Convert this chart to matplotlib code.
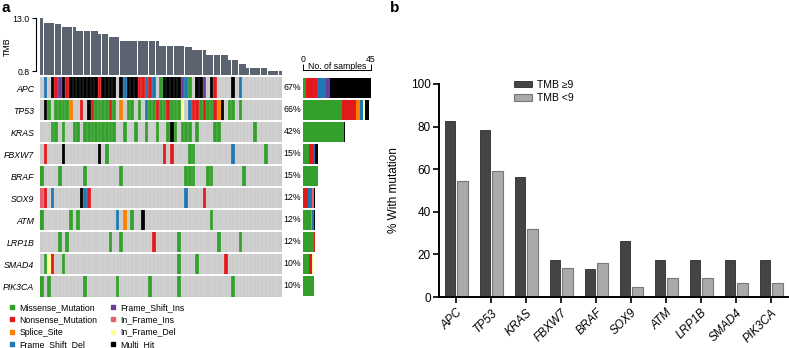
import matplotlib
matplotlib.use('Agg')
import matplotlib.pyplot as plt
import numpy as np
from matplotlib.lines import Line2D
from matplotlib.colors import ListedColormap

plt.rcParams['font.family'] = ['Liberation Sans', 'DejaVu Sans']

# ---------------- data ----------------
genes = ['APC', 'TP53', 'KRAS', 'FBXW7', 'BRAF', 'SOX9', 'ATM', 'LRP1B', 'SMAD4', 'PIK3CA']

tmb = [13.0, 11.9, 11.9, 11.9, 11.6, 11.6, 10.9, 10.9, 10.9, 10.9,
       10.0, 10.0, 10.0, 10.0, 10.0, 10.0, 9.3, 9.3, 9.3, 8.7,
       8.7, 8.7, 7.7, 7.7, 7.7, 7.7, 7.7, 7.7, 7.7, 7.7,
       7.7, 7.7, 7.7, 6.6, 6.6, 6.6, 6.6, 6.6, 6.6, 6.6,
       6.3, 6.3, 5.6, 5.6, 5.6, 5.6, 4.65, 4.65, 4.65, 4.65,
       4.65, 4.65, 3.5, 3.5, 3.5, 2.6, 2.6, 1.7, 1.7, 1.7,
       1.7, 1.7, 1.7, 0.8, 0.8, 0.8, 0.8]

# codes: M missense, N nonsense, S splice, D fs del, I fs ins, P in-frame ins, F in-frame del, X multi hit
mut_matrix = [
    ".D.XNIXNXX XXXXXXNXXX X.XDXXXNND ND.MXXXXXI DM.XXI.XN. ...X.D.... .......",  # APC
    ".XM.MMMMS. .N.XNMMMMN M.S.MM.M.D MMNMMNMMMF .DNNMNMMNS X.MM.M.... .......",  # TP53
    "...MM.M..M M.MMMMMMMM M..M..M..M ..M..MXM.M MM.M....MM .........M .......",  # KRAS
    ".N....X... ......X.M. .......... ....N.N... .MM....... ...D...... ..M....",  # FBXW7
    "M....M.... ..M....... ..M....... .......... MMM...MM.. ......M... .......",  # BRAF
    "PN.D...... .XDN...... .......... .......... D....N.... .......... .......",  # SOX9
    "M.......M. M......... .D.S.M..X. .......... .......M.. .......... .......",  # ATM
    ".....M.M.. .........M ..M....... .N......M. .........M .....M.... .......",  # LRP1B
    ".MFN..M... .......... .......... ........M. ...M...... .N........ .......",  # SMAD4
    "M.M....... ..M....... .M........ M.......M. .......... ...M...... .......",  # PIK3CA
]

mut_types = ['Missense_Mutation', 'Nonsense_Mutation', 'Splice_Site', 'Frame_Shift_Del',
             'Frame_Shift_Ins', 'In_Frame_Ins', 'In_Frame_Del', 'Multi_Hit']
mut_codes = ['M', 'N', 'S', 'D', 'I', 'P', 'F', 'X']
mut_colors = ['#33a02c', '#e31a1c', '#ff7f00', '#1f78b4', '#6a3d9a', '#e8606e', '#ffff99', '#000000']
bg_color = '#cccccc'

pct_high = [82.6, 78.3, 56.5, 17.4, 13.0, 26.1, 17.4, 17.4, 17.4, 17.4]
pct_low = [54.5, 59.1, 31.8, 13.6, 15.9, 4.5, 9.1, 9.1, 6.8, 6.8]

# ---------------- figure ----------------
W, H = 789, 348
fig = plt.figure(figsize=(W / 100, H / 100), dpi=100)


def box(x0, y0, x1, y1):
    return [x0 / W, 1 - y1 / H, (x1 - x0) / W, (y1 - y0) / H]


rows = [r.replace(' ', '') for r in mut_matrix]
n_samp = len(tmb)
n_gene = len(genes)
code_index = {c: i + 1 for i, c in enumerate(mut_codes)}
mat = np.array([[code_index.get(ch, 0) for ch in r] for r in rows])

# TMB bars
ax_t = fig.add_axes(box(40, 18, 282, 75))
ax_t.bar(np.arange(n_samp) + 0.5, tmb, width=0.9, color='#5b6270', linewidth=0)
ax_t.set_xlim(0, n_samp)
ax_t.set_ylim(0, 13.0)
for s in ['top', 'right', 'bottom']:
    ax_t.spines[s].set_visible(False)
ax_t.spines['left'].set_bounds(0.8, 13.0)
ax_t.spines['left'].set_position(('outward', 3))
ax_t.spines['left'].set_linewidth(0.8)
ax_t.set_yticks([0.8, 13.0])
ax_t.set_yticklabels(['0.8', '13.0'])
ax_t.tick_params(axis='y', labelsize=6.3, length=3, width=0.8, pad=1.5)
ax_t.set_xticks([])
ax_t.set_ylabel('TMB', fontsize=6.3)
ax_t.yaxis.set_label_coords(-0.118, 0.5)

# oncoplot matrix
cmap = ListedColormap([bg_color] + mut_colors)
ax_m = fig.add_axes(box(40, 77, 282, 297))
ax_m.pcolormesh(np.arange(n_samp + 1), np.arange(n_gene + 1), mat, cmap=cmap,
                vmin=-0.5, vmax=len(mut_codes) + 0.5, edgecolors='none')
ax_m.vlines(np.arange(1, n_samp), 0, n_gene, color='white', alpha=0.45, linewidth=0.3)
ax_m.hlines(np.arange(1, n_gene), 0, n_samp, color='white', linewidth=1.4)
ax_m.set_xlim(0, n_samp)
ax_m.set_ylim(n_gene, 0)
for s in ax_m.spines.values():
    s.set_visible(False)
ax_m.set_xticks([])
ax_m.set_yticks(np.arange(n_gene) + 0.5)
ax_m.set_yticklabels(genes, fontstyle='italic', fontsize=6.3)
ax_m.tick_params(axis='y', length=0, pad=4)

counts = (mat > 0).sum(axis=1)
for i, c in enumerate(counts):
    ax_m.text(n_samp + 0.45, i + 0.5, f'{int(round(100 * c / n_samp))}%', ha='left',
              va='center', fontsize=6.3)

# side bar
ax_s = fig.add_axes(box(303, 77, 371, 297))
left = np.zeros(n_gene)
for k, code in enumerate(mut_codes):
    vals = (mat == k + 1).sum(axis=1)
    ax_s.barh(np.arange(n_gene) + 0.5, vals, left=left, height=0.9, color=mut_colors[k], linewidth=0)
    left += vals
ax_s.set_xlim(0, 45)
ax_s.set_ylim(n_gene, 0)
for s in ['bottom', 'left', 'right']:
    ax_s.spines[s].set_visible(False)
ax_s.spines['top'].set_position(('outward', 5))
ax_s.spines['top'].set_linewidth(0.7)
ax_s.xaxis.tick_top()
ax_s.set_xticks([0, 45])
ax_s.tick_params(axis='x', labelsize=6.3, length=4, width=0.7, pad=0.5)
ax_s.set_yticks([])
ax_s.annotate('No. of samples', xy=(0.5, 1), xycoords='axes fraction', xytext=(0, 5.6),
              textcoords='offset points', ha='center', va='baseline', fontsize=6.3)

# legend a
handles = [Line2D([], [], marker='s', ms=3.3, color=c, ls='') for c in mut_colors]
fig.legend(handles, mut_types, loc='upper left', bbox_to_anchor=(9 / W, 1 - 303 / H), ncol=2,
           frameon=False, fontsize=6.3, handlelength=0.7, handletextpad=0.5, columnspacing=1.4,
           labelspacing=0.38, borderpad=0, borderaxespad=0)

# ---------------- panel b ----------------
ax_b = fig.add_axes(box(439, 84, 788, 297))
x = np.arange(len(genes))
ax_b.bar(x - 0.17, pct_high, width=0.3, color='#444444', edgecolor='#2a2a2a', linewidth=0.6,
         label='TMB \u22659')
ax_b.bar(x + 0.185, pct_low, width=0.3, color='#aaaaaa', edgecolor='#777777', linewidth=0.8,
         label='TMB <9')
ax_b.set_xlim(-0.49, 9.49)
ax_b.set_ylim(0, 100)
ax_b.spines['top'].set_visible(False)
ax_b.spines['right'].set_visible(False)
ax_b.spines['left'].set_linewidth(1.4)
ax_b.spines['bottom'].set_linewidth(1.4)
ax_b.set_yticks([0, 20, 40, 60, 80, 100])
ax_b.set_xticks(x)
ax_b.set_xticklabels(genes, rotation=45, ha='right', rotation_mode='anchor', fontstyle='italic',
                     fontsize=8.5)
ax_b.tick_params(axis='y', labelsize=8.5, length=4, width=1.2, pad=2)
ax_b.tick_params(axis='x', length=4, width=1.2, pad=3)
ax_b.set_ylabel('% With mutation', fontsize=8.5, labelpad=8)
ax_b.legend(loc='upper left', bbox_to_anchor=(0.215, 1.02), frameon=False, fontsize=7.5,
            handlelength=1.75, handleheight=0.6, handletextpad=0.5, labelspacing=0.3,
            borderpad=0, borderaxespad=0)

fig.text(2 / W, 1 - 1 / H, 'a', fontsize=11, fontweight='bold', va='top', ha='left')
fig.text(390 / W, 1 - 1 / H, 'b', fontsize=11, fontweight='bold', va='top', ha='left')

fig.savefig('out.png', dpi=100)
